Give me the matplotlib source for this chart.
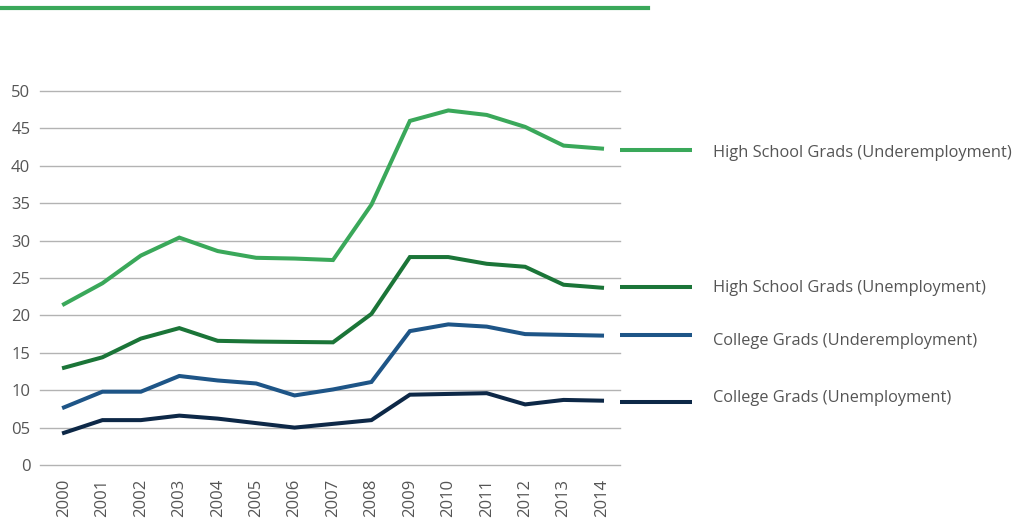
import matplotlib.pyplot as plt
from matplotlib.lines import Line2D

years = list(range(2000, 2015))
hs_under = [21.5, 24.3, 28.0, 30.4, 28.6, 27.7, 27.6, 27.4, 34.8, 46.0, 47.4, 46.8, 45.2, 42.7, 42.3]
hs_unemp = [13.0, 14.4, 16.9, 18.3, 16.6, 16.5, 16.45, 16.4, 20.2, 27.8, 27.8, 26.9, 26.5, 24.1, 23.7]
col_under = [7.7, 9.8, 9.8, 11.9, 11.3, 10.9, 9.3, 10.1, 11.1, 17.9, 18.8, 18.5, 17.5, 17.4, 17.3]
col_unemp = [4.3, 6.0, 6.0, 6.6, 6.2, 5.6, 5.0, 5.5, 6.0, 9.4, 9.5, 9.6, 8.1, 8.7, 8.6]
labels = ["High School Grads (Underemployment)", "High School Grads (Unemployment)",
          "College Grads (Underemployment)", "College Grads (Unemployment)"]
key_y = [42.1, 23.8, 17.4, 8.4]
label_y = [41.7, 23.7, 16.6, 9.0]
yticks = [0, 5, 10, 15, 20, 25, 30, 35, 40, 45, 50]
ytick_labels = ["0", "05", "10", "15", "20", "25", "30", "35", "40", "45", "50"]

colors = ["#3aa85a", "#1b7538", "#1e5587", "#0d2847"]
grey = "#555555"

plt.rcParams['font.family'] = ['Open Sans', 'DejaVu Sans']

fig = plt.figure(figsize=(10.21, 5.25), dpi=100)
ax = fig.add_axes([40 / 1021, 60 / 525, 580 / 1021, 374 / 525])

# green bar at top
fig.add_artist(Line2D([0, 648 / 1021], [1 - 8 / 525, 1 - 8 / 525], color="#3aa85a", lw=3,
                      transform=fig.transFigure))

for s, c in zip([hs_under, hs_unemp, col_under, col_unemp], colors):
    ax.plot(years, s, color=c, lw=2.9, solid_joinstyle='miter')

px = 38.43  # pixels per year
ax.set_xlim(2000 - 24 / px, 2014 + 18 / px)
ax.set_ylim(0, 50)

# legend-like labels on right
for ky, ly, lab, c in zip(key_y, label_y, labels, colors):
    ax.plot([2014 + 18 / px, 2000 + (692 - 64) / px], [ky, ky], color=c, lw=2.9,
            clip_on=False, solid_capstyle='butt')
    ax.text(2000 + (713 - 64) / px, ly, lab, color=grey, fontsize=11.8, va='center',
            ha='left', clip_on=False)

ax.set_yticks(yticks)
ax.set_yticklabels(ytick_labels)
ax.set_xticks(years)
ax.set_xticklabels([str(y) for y in years], rotation=90)
ax.tick_params(axis='both', length=0, colors=grey, labelsize=12)
ax.tick_params(axis='y', pad=7)
ax.tick_params(axis='x', pad=10)
ax.yaxis.grid(True, color="#b3b3b3", lw=1)
for gl in ax.yaxis.get_gridlines():
    gl.set_clip_on(False)
ax.set_axisbelow(True)
for sp in ax.spines.values():
    sp.set_visible(False)

fig.savefig("out.png", dpi=100)
